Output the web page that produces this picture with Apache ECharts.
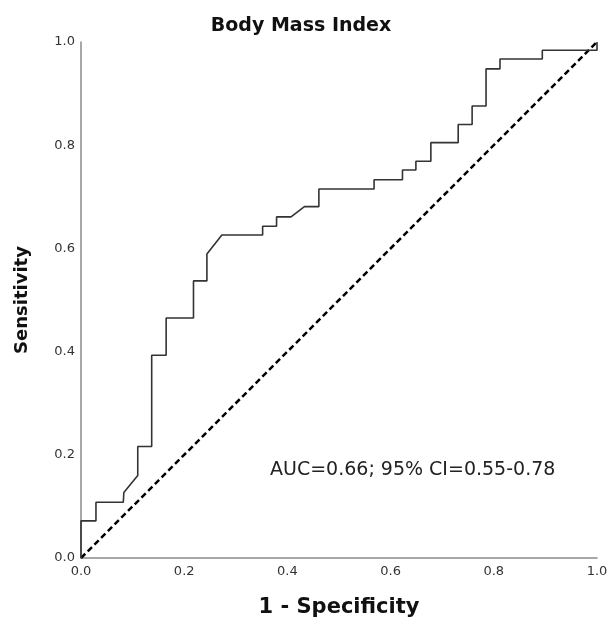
<!DOCTYPE html>
<html>
<head>
<meta charset="utf-8">
<script src="https://cdn.jsdelivr.net/npm/echarts@6/dist/echarts.min.js"></script>
<style>
  html, body { margin: 0; padding: 0; background: #fff; }
  #chart { width: 610px; height: 621px; }
</style>
</head>
<body>
<div id="chart"></div>
<script>
// ROC curve points
var fpr = [0, 0, 0.029, 0.029, 0.082, 0.083, 0.110, 0.110, 0.137, 0.137, 0.165, 0.165,
  0.218, 0.218, 0.244, 0.244, 0.273, 0.352, 0.352, 0.379, 0.379, 0.407, 0.433, 0.461,
  0.461, 0.568, 0.568, 0.623, 0.623, 0.649, 0.649, 0.678, 0.678, 0.731, 0.731, 0.758,
  0.758, 0.785, 0.785, 0.812, 0.812, 0.894, 0.894, 1.0, 1.0];
var tpr = [0, 0.072, 0.072, 0.108, 0.108, 0.127, 0.160, 0.216, 0.216, 0.393, 0.393, 0.465,
  0.465, 0.537, 0.537, 0.589, 0.626, 0.626, 0.643, 0.643, 0.661, 0.661, 0.681, 0.681,
  0.715, 0.715, 0.733, 0.733, 0.752, 0.752, 0.769, 0.769, 0.805, 0.805, 0.840, 0.840,
  0.876, 0.876, 0.948, 0.948, 0.967, 0.967, 0.984, 0.984, 1.0];
var refX = [0, 1];
var refY = [0, 1];
var tickLabels = ['0.0', '0.2', '0.4', '0.6', '0.8', '1.0'];
var chartTitle = 'Body Mass Index';
var aucText = 'AUC=0.66; 95% CI=0.55-0.78';

var font = 'DejaVu Sans';
var chart = echarts.init(document.getElementById('chart'));

var curve = [];
for (var i = 0; i < fpr.length; i++) {
  curve.push([fpr[i], tpr[i]]);
}
var diag = [];
for (var j = 0; j < refX.length; j++) {
  diag.push([refX[j], refY[j]]);
}

function fmt(v) {
  var idx = Math.round(v / 0.2);
  return tickLabels[idx];
}

var axisCommon = {
  type: 'value',
  min: 0,
  max: 1,
  interval: 0.2,
  nameLocation: 'middle',
  nameTextStyle: { fontFamily: font, fontWeight: 'bold', fontSize: 18, color: '#111' },
  axisLine: { show: true, lineStyle: { color: '#8a8a8a', width: 1.5 } },
  axisTick: { show: false },
  splitLine: { show: false },
  axisLabel: { formatter: fmt, fontFamily: font, fontSize: 13, color: '#333' }
};

var option = {
  animation: false,
  backgroundColor: '#fff',
  title: [{
    text: chartTitle,
    left: 296,
    top: 12,
    textAlign: 'center',
    textStyle: { fontFamily: font, fontWeight: 'bold', fontSize: 19, color: '#111' }
  }, {
    text: aucText,
    left: 265,
    top: 456,
    textStyle: { fontFamily: font, fontWeight: 'normal', fontSize: 19, color: '#222' }
  }],
  grid: { left: 81, right: 13, top: 42, bottom: 63, outerBoundsMode: 'none' },
  xAxis: Object.assign({}, axisCommon, {
    name: '1 - Specificity',
    nameGap: 39,
    nameTextStyle: Object.assign({}, axisCommon.nameTextStyle, { fontSize: 21 }),
    axisLabel: Object.assign({}, axisCommon.axisLabel, { margin: 7 })
  }),
  yAxis: Object.assign({}, axisCommon, {
    name: 'Sensitivity',
    nameGap: 50,
    axisLabel: Object.assign({}, axisCommon.axisLabel, { margin: 6 })
  }),
  series: [{
    type: 'line',
    data: diag,
    showSymbol: false,
    lineStyle: { color: '#000', width: 2.5, type: [6, 3.5] },
    z: 2
  }, {
    type: 'line',
    data: curve,
    showSymbol: false,
    lineStyle: { color: '#333', width: 1.6 },
    z: 3
  }]
};

chart.setOption(option);
</script>
</body>
</html>
